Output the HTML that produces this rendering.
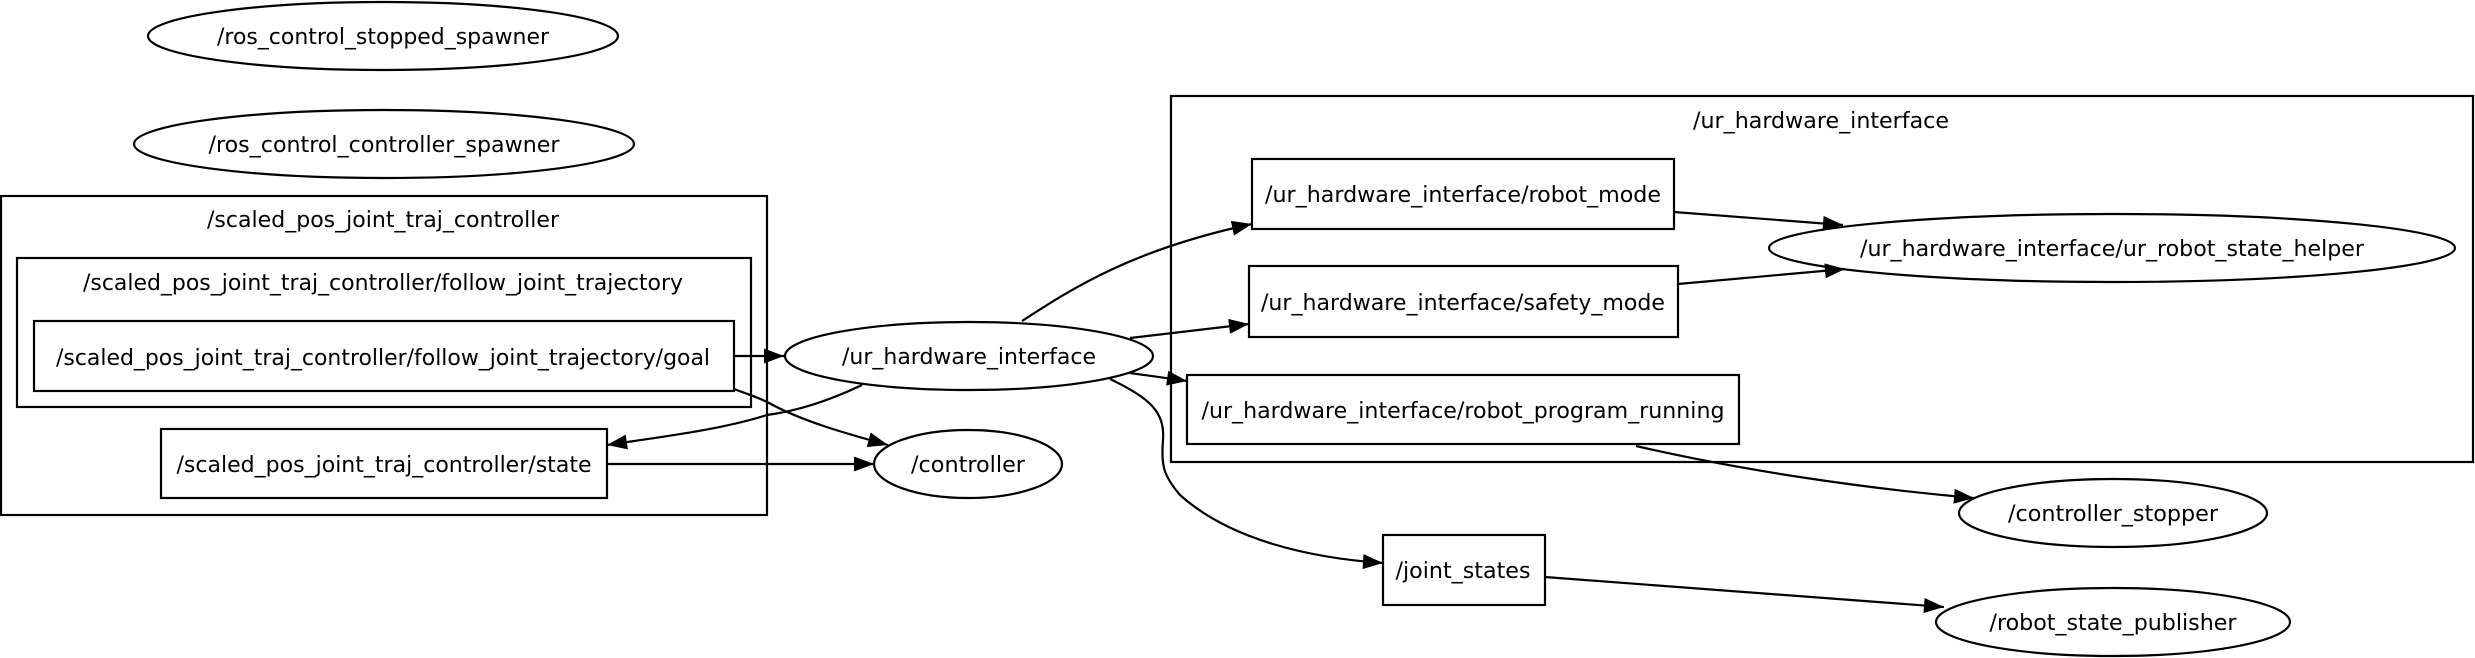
<!DOCTYPE html>
<html><head><meta charset="utf-8"><style>
html,body{margin:0;padding:0;background:#fff;}
svg{display:block;}
text{font-family:"DejaVu Sans","Liberation Sans",sans-serif;font-size:22px;fill:#000;}
</style></head><body>
<svg width="2475" height="658" viewBox="0 0 2475 658" xmlns="http://www.w3.org/2000/svg">
<defs>
<marker id="a" viewBox="0 0 16 12" refX="16" refY="6" markerWidth="21" markerHeight="15" markerUnits="userSpaceOnUse" orient="auto">
<path d="M0,0 L16,6 L0,12 z" fill="#000"/>
</marker>
</defs>
<g fill="none" stroke="#000" stroke-width="2.2">
<rect x="1" y="196" width="766" height="319"/>
<rect x="17" y="258" width="734" height="149"/>
<rect x="1171" y="96" width="1302" height="366"/>
<rect x="34" y="321" width="700" height="70"/>
<rect x="161" y="429" width="446" height="69"/>
<rect x="1252" y="159" width="422" height="70"/>
<rect x="1249" y="266" width="429" height="71"/>
<rect x="1187" y="375" width="552" height="69"/>
<rect x="1383" y="535" width="162" height="70"/>
<ellipse cx="383" cy="36" rx="235" ry="34"/>
<ellipse cx="384" cy="144" rx="250" ry="34"/>
<ellipse cx="969" cy="356" rx="184" ry="34"/>
<ellipse cx="968" cy="464" rx="94" ry="34"/>
<ellipse cx="2112" cy="248" rx="343" ry="34"/>
<ellipse cx="2113" cy="513" rx="154" ry="34"/>
<ellipse cx="2113" cy="622" rx="177" ry="34"/>
<path d="M734,356 L784,356" marker-end="url(#a)"/>
<path d="M1022,321 C1070,290 1130,250 1252,224" marker-end="url(#a)"/>
<path d="M1130,338 L1249,324" marker-end="url(#a)"/>
<path d="M1130,373 L1187,381" marker-end="url(#a)"/>
<path d="M862,385 C820,405 790,412 767,415 C720,430 660,437 607,445" marker-end="url(#a)"/>
<path d="M734,389 C750,395 760,398 769,403 C800,420 840,432 888,445" marker-end="url(#a)"/>
<path d="M607,464 L874,464" marker-end="url(#a)"/>
<path d="M1110,379 C1150,398 1165,412 1163,440 C1161,465 1163,475 1180,495 C1230,540 1310,558 1383,563" marker-end="url(#a)"/>
<path d="M1674,212 L1843,225" marker-end="url(#a)"/>
<path d="M1678,284 L1845,269" marker-end="url(#a)"/>
<path d="M1636,446 C1740,470 1860,488 1974,498" marker-end="url(#a)"/>
<path d="M1545,577 L1944,607" marker-end="url(#a)"/>
</g>
<g text-anchor="middle">
<text x="383" y="44" textLength="332" lengthAdjust="spacingAndGlyphs">/ros_control_stopped_spawner</text>
<text x="384" y="152" textLength="351" lengthAdjust="spacingAndGlyphs">/ros_control_controller_spawner</text>
<text x="383" y="227" textLength="352" lengthAdjust="spacingAndGlyphs">/scaled_pos_joint_traj_controller</text>
<text x="383" y="290" textLength="600" lengthAdjust="spacingAndGlyphs">/scaled_pos_joint_traj_controller/follow_joint_trajectory</text>
<text x="383" y="365" textLength="654" lengthAdjust="spacingAndGlyphs">/scaled_pos_joint_traj_controller/follow_joint_trajectory/goal</text>
<text x="384" y="472" textLength="415" lengthAdjust="spacingAndGlyphs">/scaled_pos_joint_traj_controller/state</text>
<text x="969" y="364" textLength="254" lengthAdjust="spacingAndGlyphs">/ur_hardware_interface</text>
<text x="968" y="472" textLength="114" lengthAdjust="spacingAndGlyphs">/controller</text>
<text x="1821" y="128" textLength="256" lengthAdjust="spacingAndGlyphs">/ur_hardware_interface</text>
<text x="1463" y="202" textLength="396" lengthAdjust="spacingAndGlyphs">/ur_hardware_interface/robot_mode</text>
<text x="1463" y="310" textLength="404" lengthAdjust="spacingAndGlyphs">/ur_hardware_interface/safety_mode</text>
<text x="1463" y="418" textLength="523" lengthAdjust="spacingAndGlyphs">/ur_hardware_interface/robot_program_running</text>
<text x="2112" y="256" textLength="504" lengthAdjust="spacingAndGlyphs">/ur_hardware_interface/ur_robot_state_helper</text>
<text x="2113" y="521" textLength="210" lengthAdjust="spacingAndGlyphs">/controller_stopper</text>
<text x="1463" y="578" textLength="135" lengthAdjust="spacingAndGlyphs">/joint_states</text>
<text x="2113" y="630" textLength="247" lengthAdjust="spacingAndGlyphs">/robot_state_publisher</text>
</g>
</svg>
</body></html>
